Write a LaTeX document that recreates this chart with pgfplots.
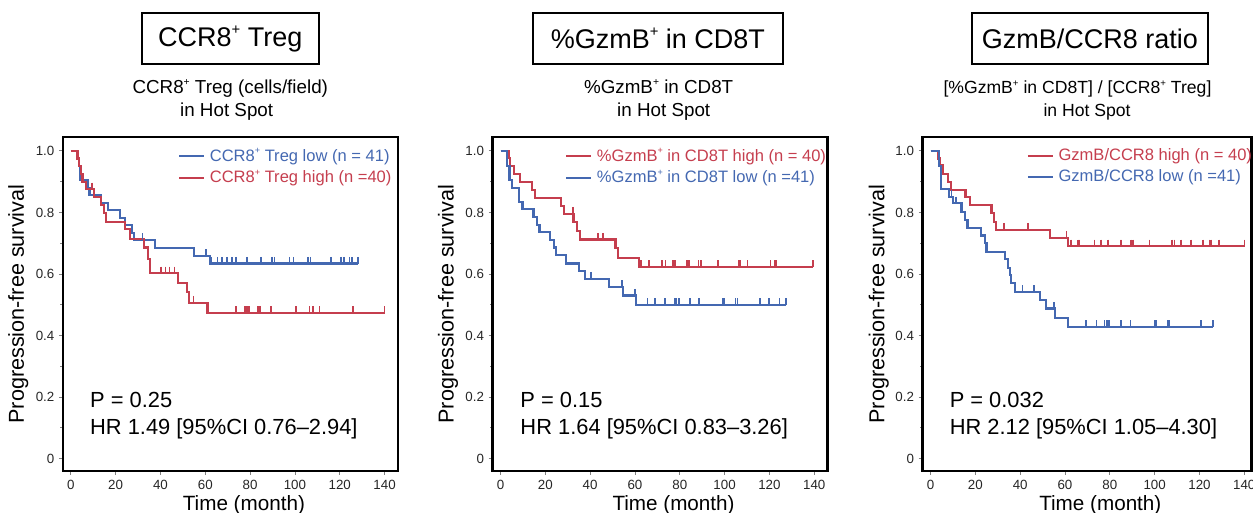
\documentclass[border=0pt]{standalone}
\usepackage{fontspec}
\setmainfont{Liberation Sans}
\usepackage{pgfplots}
\pgfplotsset{compat=1.18}
\definecolor{kmblue}{RGB}{68,104,177}
\definecolor{kmred}{RGB}{197,62,78}
\newcommand{\sps}{\raisebox{0.45em}{\scalebox{0.55}{+}}}
\pgfplotsset{
 kmaxis/.style={
  scale only axis, height=250.5pt,
  ymin=-0.04, ymax=1.045, xmin=-3.5,
  axis line style={line width=2pt, black},
  xtick={0,20,40,60,80,100,120,140}, xticklabels={0,20,40,60,80,100,120,140},
  ytick={0,0.2,0.4,0.6,0.8,1.0}, yticklabels={0,0.2,0.4,0.6,0.8,1.0},
  minor ytick={0.1,0.3,0.5,0.7,0.9},
  tick align=outside, xtick pos=bottom, ytick pos=left,
  major tick length=3pt, minor tick length=2pt,
  every tick/.style={gray, line width=0.6pt},
  tick label style={font=\fontsize{10}{12}\selectfont, text=black!85},
  xlabel={Time (month)}, ylabel={Progression-free survival},
  xlabel style={font=\fontsize{15.5}{18}\selectfont, at={(axis description cs:0.54,-0.1168)}, anchor=base},
  ylabel style={font=\fontsize{16.2}{18}\selectfont, at={(axis description cs:-0.1334,0.5)}, anchor=center},
  legend image code/.code={\draw[#1,line width=1.5pt] (0pt,0pt) -- (18.75pt,0pt);},
  legend style={draw=none, fill=none, inner sep=0pt, font=\fontsize{12.4}{14}\selectfont, row sep=1.2pt, column sep=1.5pt, anchor=north west},
  legend cell align=left,
 },
 kmline/.style={line width=1.6pt, const plot, mark=none},
 kmcens/.style={only marks, mark=|, mark size=2.5pt, mark options={yshift=2.5pt, line width=1.25pt, solid}, forget plot},
}
\begin{document}
\begin{tikzpicture}
\path[use as bounding box] (0pt,0pt) rectangle (939.75pt,384.75pt);
% ---------- titles ----------
\node[draw, line width=1.5pt, minimum width=132.75pt, minimum height=38.25pt, inner sep=0pt, font=\fontsize{20.25}{24}\selectfont] at (172.7pt,355.7pt) {CCR8\sps\ Treg};
\node[draw, line width=1.5pt, minimum width=187.5pt, minimum height=38.25pt, inner sep=0pt, font=\fontsize{20.25}{24}\selectfont] at (493.4pt,355.7pt) {\%GzmB\sps\ in CD8T};
\node[draw, line width=1.5pt, minimum width=177pt, minimum height=38.25pt, inner sep=0pt, font=\fontsize{20.25}{24}\selectfont] at (817.4pt,355.7pt) {GzmB/CCR8 ratio};
\node[anchor=base, inner sep=0pt, font=\fontsize{14.1}{17}\selectfont] at (172.7pt,314.25pt) {CCR8\sps\ Treg (cells/field)};
\node[anchor=base, inner sep=0pt, font=\fontsize{14.1}{17}\selectfont] at (170pt,297.2pt) {in Hot Spot};
\node[anchor=base, inner sep=0pt, font=\fontsize{14.1}{17}\selectfont] at (494pt,314.25pt) {\%GzmB\sps\ in CD8T};
\node[anchor=base, inner sep=0pt, font=\fontsize{14.1}{17}\selectfont] at (497.8pt,297.2pt) {in Hot Spot};
\node[anchor=base, inner sep=0pt, font=\fontsize{13.2}{16}\selectfont] at (808.1pt,314.25pt) {[\%GzmB\sps\ in CD8T] / [CCR8\sps\ Treg]};
\node[anchor=base, inner sep=0pt, font=\fontsize{13.2}{16}\selectfont] at (815.3pt,297.2pt) {in Hot Spot};

% ---------- panel 1 ----------
\begin{axis}[kmaxis, at={(47.25pt,31.5pt)}, anchor=south west, width=251.25pt, xmax=146,
  legend style={at={(axis description cs:0.343,0.974)}}]
\addplot[kmblue, kmline] coordinates {(0,1)(2.8,0.976)(3.6,0.952)(4.3,0.905)(7.8,0.88)(8.3,0.856)(13.3,0.831)(16.7,0.807)(21.9,0.783)(24.2,0.758)(27.1,0.734)(28.3,0.71)(37.4,0.683)(55,0.658)(62,0.634)(128.3,0.634)};
\addlegendentry{\textcolor{kmblue}{CCR8\sps\ Treg low (n = 41)}}
\addplot[kmred, kmline] coordinates {(0,1)(3,0.975)(3.7,0.95)(4.5,0.925)(5.2,0.9)(6.7,0.875)(10.4,0.85)(13.3,0.825)(14.8,0.797)(15.8,0.77)(24.3,0.745)(26.4,0.715)(32.5,0.686)(34.5,0.65)(35.2,0.602)(48,0.571)(51.8,0.542)(52.8,0.507)(61,0.473)(140,0.473)};
\addlegendentry{\textcolor{kmred}{CCR8\sps\ Treg high (n =40)}}
\addplot[kmblue, kmcens] coordinates {(32,0.71)(60.3,0.658)(62.6,0.634)(65.5,0.634)(67.5,0.634)(69.7,0.634)(71.8,0.634)(73.7,0.634)(78.5,0.634)(84.9,0.634)(89.7,0.634)(90.9,0.634)(97.6,0.634)(99.3,0.634)(105.8,0.634)(107,0.634)(116.2,0.634)(120.6,0.634)(121.8,0.634)(124.4,0.634)(125.4,0.634)(128.1,0.634)};
\addplot[kmred, kmcens] coordinates {(9.5,0.875)(40.2,0.602)(42.2,0.602)(44,0.602)(46.2,0.602)(54.8,0.507)(73.7,0.473)(77.7,0.473)(78.5,0.473)(79.4,0.473)(83.4,0.473)(84.4,0.473)(89.4,0.473)(100.5,0.473)(106.5,0.473)(108,0.473)(111,0.473)(125.9,0.473)(140,0.473)};
\node[anchor=base west, font=\fontsize{16.4}{19}\selectfont] at (axis description cs:0.067,0.189) {P = 0.25};
\node[anchor=base west, font=\fontsize{16.4}{19}\selectfont] at (axis description cs:0.067,0.108) {HR 1.49 [95\%CI 0.76–2.94]};
\end{axis}

% ---------- panel 2 ----------
\begin{axis}[kmaxis, at={(369.5pt,31.5pt)}, anchor=south west, width=251.25pt, xmax=146,
  legend style={at={(axis description cs:0.216,0.974)}}]
\addplot[kmred, kmline] coordinates {(0,1)(3.7,0.976)(4.4,0.952)(5.9,0.926)(8.8,0.9)(14,0.874)(15.5,0.848)(26.8,0.822)(28.3,0.796)(32.6,0.769)(34.2,0.74)(35.4,0.712)(51.3,0.684)(52.3,0.653)(61.9,0.623)(139.5,0.623)};
\addlegendentry{\textcolor{kmred}{\%GzmB\sps\ in CD8T high (n = 40)}}
\addplot[kmblue, kmline] coordinates {(0,1)(2.9,0.95)(4.0,0.905)(5.2,0.88)(8.1,0.834)(9.8,0.81)(14.7,0.785)(16.2,0.76)(17.4,0.735)(22.1,0.71)(24.0,0.686)(24.6,0.661)(29.2,0.634)(35.1,0.609)(37.6,0.585)(48.3,0.558)(54.8,0.53)(60.4,0.5)(127.5,0.5)};
\addlegendentry{\textcolor{kmblue}{\%GzmB\sps\ in CD8T low (n =41)}}
\addplot[kmred, kmcens] coordinates {(32.4,0.796)(43.5,0.712)(45.7,0.712)(62.6,0.623)(66.3,0.623)(72.2,0.623)(73.7,0.623)(76.9,0.623)(77.8,0.623)(83.3,0.623)(84,0.623)(88.4,0.623)(89.6,0.623)(97,0.623)(106.4,0.623)(107.1,0.623)(110.2,0.623)(120.5,0.623)(122.3,0.623)(123,0.623)(139.5,0.623)};
\addplot[kmblue, kmcens] coordinates {(10.3,0.81)(40.5,0.585)(54.2,0.558)(60,0.53)(65.6,0.5)(69,0.5)(73.4,0.5)(77.8,0.5)(78.4,0.5)(79.6,0.5)(84.7,0.5)(88.7,0.5)(99,0.5)(99.7,0.5)(104.9,0.5)(105.7,0.5)(115.7,0.5)(119.7,0.5)(124.5,0.5)(127.5,0.5)};
\node[anchor=base west, font=\fontsize{16.4}{19}\selectfont] at (axis description cs:0.069,0.189) {P = 0.15};
\node[anchor=base west, font=\fontsize{16.4}{19}\selectfont] at (axis description cs:0.069,0.108) {HR 1.64 [95\%CI 0.83–3.26]};
\end{axis}

% ---------- panel 3 ----------
\begin{axis}[kmaxis, at={(692pt,31.5pt)}, anchor=south west, width=246.75pt, xmax=143.3,
  legend style={at={(axis description cs:0.316,0.974)}}]
\addplot[kmred, kmline] coordinates {(0,1)(3.4,0.975)(4.2,0.953)(5.6,0.926)(7.9,0.899)(9.1,0.874)(15.6,0.85)(17.5,0.823)(27.2,0.798)(28.4,0.769)(29.4,0.744)(53.2,0.718)(61.3,0.69)(140.1,0.69)};
\addlegendentry{\textcolor{kmred}{GzmB/CCR8 high (n = 40)}}
\addplot[kmblue, kmline] coordinates {(0,1)(3.7,0.95)(4.6,0.876)(8.2,0.85)(10.1,0.83)(13.8,0.8)(15.3,0.776)(16.5,0.75)(22.4,0.725)(24.2,0.7)(25,0.672)(33.1,0.65)(34.6,0.62)(35.3,0.596)(36.1,0.57)(37.6,0.542)(48.7,0.515)(51.7,0.488)(55.4,0.458)(61.3,0.428)(125.9,0.428)};
\addlegendentry{\textcolor{kmblue}{GzmB/CCR8 low (n =41)}}
\addplot[kmred, kmcens] coordinates {(32.8,0.744)(43.5,0.744)(60.6,0.718)(62.8,0.69)(65.8,0.69)(66.5,0.69)(73.2,0.69)(76.2,0.69)(79.2,0.69)(84.7,0.69)(85.1,0.69)(89.6,0.69)(90.3,0.69)(97.7,0.69)(107.7,0.69)(108.9,0.69)(111.8,0.69)(116.3,0.69)(121.5,0.69)(124.5,0.69)(125.2,0.69)(128.6,0.69)(140.1,0.69)};
\addplot[kmblue, kmcens] coordinates {(9.4,0.85)(11.3,0.83)(41,0.542)(46.2,0.542)(55.1,0.488)(69.5,0.428)(74,0.428)(77.7,0.428)(78.6,0.428)(79.5,0.428)(85.1,0.428)(89.3,0.428)(100,0.428)(100.7,0.428)(105.9,0.428)(106.7,0.428)(120.7,0.428)(125.9,0.428)};
\node[anchor=base west, font=\fontsize{16.4}{19}\selectfont] at (axis description cs:0.068,0.189) {P = 0.032};
\node[anchor=base west, font=\fontsize{16.4}{19}\selectfont] at (axis description cs:0.068,0.108) {HR 2.12 [95\%CI 1.05–4.30]};
\end{axis}
\end{tikzpicture}
\end{document}
